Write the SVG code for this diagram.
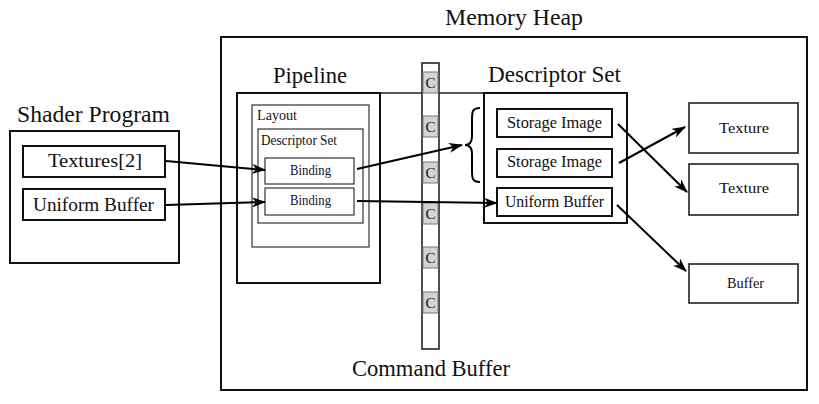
<svg xmlns="http://www.w3.org/2000/svg" width="819" height="404" viewBox="0 0 819 404">
<defs>
<marker id="ah" markerWidth="14" markerHeight="10" refX="13" refY="5" orient="auto" markerUnits="userSpaceOnUse">
<path d="M0,0 L14,5 L0,10 L4,5 z" fill="#000"/>
</marker>
<style>
text{font-family:"Liberation Serif","DejaVu Serif",serif;fill:#111}
.big{stroke:#111;stroke-width:2;fill:#fff}
.mid{stroke:#222;stroke-width:1.6;fill:#fff}
.thin{stroke:#333;stroke-width:1.2;fill:#fff}
.cell{stroke:#777;stroke-width:1;fill:#d4d4d4}
.conn{stroke:#000;stroke-width:2;fill:none}
.t22{font-size:23px}
.t17{font-size:19px}
.t16{font-size:16px}
.t15{font-size:15px}
.t14{font-size:14px}
.t13{font-size:13px}
</style>
</defs>
<rect width="819" height="404" fill="#fff"/>
<g id="memory-heap">
<rect class="big" x="221" y="37" width="586" height="353"/>
<text class="t22" x="445" y="25" textLength="138" lengthAdjust="spacingAndGlyphs">Memory Heap</text>
</g>
<line x1="380" y1="93" x2="484" y2="93" stroke="#222" stroke-width="1.5"/>
<g id="shader-program">
<rect class="big" x="10" y="131" width="169" height="132"/>
<text class="t22" x="17" y="122" textLength="153" lengthAdjust="spacingAndGlyphs">Shader Program</text>
<g id="textures2"><rect class="big" x="23" y="146" width="142" height="31"/><text class="t17" x="48" y="167" textLength="94" lengthAdjust="spacingAndGlyphs">Textures[2]</text></g>
<g id="uniform-buffer-sp"><rect class="big" x="23" y="189" width="142" height="31"/><text class="t17" x="33" y="211" textLength="121" lengthAdjust="spacingAndGlyphs">Uniform Buffer</text></g>
</g>
<g id="pipeline">
<rect class="big" x="237" y="93" width="143" height="190"/>
<text class="t22" x="273" y="83" textLength="74" lengthAdjust="spacingAndGlyphs">Pipeline</text>
<g id="layout"><rect class="thin" x="252" y="105" width="117" height="142"/><text class="t14" x="257" y="120" textLength="40" lengthAdjust="spacingAndGlyphs">Layout</text></g>
<g id="descriptor-set-inner"><rect class="thin" x="258" y="129" width="105" height="94"/><text class="t14" x="261" y="145" textLength="76" lengthAdjust="spacingAndGlyphs">Descriptor Set</text></g>
<g id="binding1"><rect class="thin" x="265" y="158" width="89" height="26"/><text class="t14" x="290" y="175" textLength="41" lengthAdjust="spacingAndGlyphs">Binding</text></g>
<g id="binding2"><rect class="thin" x="265" y="188" width="89" height="27"/><text class="t14" x="290" y="205" textLength="41" lengthAdjust="spacingAndGlyphs">Binding</text></g>
</g>
<g id="command-buffer">
<rect class="mid" x="422" y="63" width="17" height="286"/>
<g class="cells">
<rect class="cell" x="423" y="72" width="15" height="21"/><text class="t15" x="430.5" y="88" text-anchor="middle">C</text>
<rect class="cell" x="423" y="116" width="15" height="21"/><text class="t15" x="430.5" y="132" text-anchor="middle">C</text>
<rect class="cell" x="423" y="162" width="15" height="21"/><text class="t15" x="430.5" y="178" text-anchor="middle">C</text>
<rect class="cell" x="423" y="203" width="15" height="21"/><text class="t15" x="430.5" y="219" text-anchor="middle">C</text>
<rect class="cell" x="423" y="247" width="15" height="21"/><text class="t15" x="430.5" y="263" text-anchor="middle">C</text>
<rect class="cell" x="423" y="292" width="15" height="21"/><text class="t15" x="430.5" y="308" text-anchor="middle">C</text>
</g>
<text class="t22" x="352" y="376" textLength="158" lengthAdjust="spacingAndGlyphs">Command Buffer</text>
</g>
<g id="descriptor-set">
<rect class="big" x="484" y="93" width="143" height="130"/>
<text class="t22" x="488" y="82" textLength="133" lengthAdjust="spacingAndGlyphs">Descriptor Set</text>
<g id="storage-image1"><rect class="big" x="497" y="109" width="115" height="28"/><text class="t16" x="507" y="128" textLength="95" lengthAdjust="spacingAndGlyphs">Storage Image</text></g>
<g id="storage-image2"><rect class="big" x="497" y="149" width="115" height="28"/><text class="t16" x="507" y="167" textLength="95" lengthAdjust="spacingAndGlyphs">Storage Image</text></g>
<g id="uniform-buffer-ds"><rect class="big" x="497" y="188" width="115" height="28"/><text class="t16" x="505" y="207" textLength="99" lengthAdjust="spacingAndGlyphs">Uniform Buffer</text></g>
</g>
<g id="brace">
<path d="M480,108 C472,108 472,112 472,120 L472,136 C472,142 470,145 465,145 C470,145 472,148 472,154 L472,170 C472,178 472,182 480,182" fill="none" stroke="#000" stroke-width="2"/>
</g>
<g id="texture1"><rect class="mid" x="689" y="103" width="109" height="50"/><text class="t15" x="719" y="133" textLength="50" lengthAdjust="spacingAndGlyphs">Texture</text></g>
<g id="texture2"><rect class="mid" x="689" y="164" width="109" height="51"/><text class="t15" x="719" y="193" textLength="50" lengthAdjust="spacingAndGlyphs">Texture</text></g>
<g id="buffer"><rect class="mid" x="689" y="264" width="109" height="39"/><text class="t15" x="727" y="288" textLength="37" lengthAdjust="spacingAndGlyphs">Buffer</text></g>
<g id="connectors">
<line class="conn" x1="166" y1="161" x2="265" y2="170" marker-end="url(#ah)"/>
<line class="conn" x1="166" y1="205" x2="265" y2="202" marker-end="url(#ah)"/>
<line class="conn" x1="357" y1="169" x2="462" y2="145" marker-end="url(#ah)"/>
<line class="conn" x1="357" y1="201" x2="497" y2="203" marker-end="url(#ah)"/>
<line class="conn" x1="618" y1="124" x2="687" y2="192" marker-end="url(#ah)" stroke-width="1.6"/>
<line class="conn" x1="619" y1="163" x2="685" y2="127" marker-end="url(#ah)" stroke-width="1.6"/>
<line class="conn" x1="617" y1="205" x2="686" y2="271" marker-end="url(#ah)" stroke-width="1.6"/>
</g>
</svg>
